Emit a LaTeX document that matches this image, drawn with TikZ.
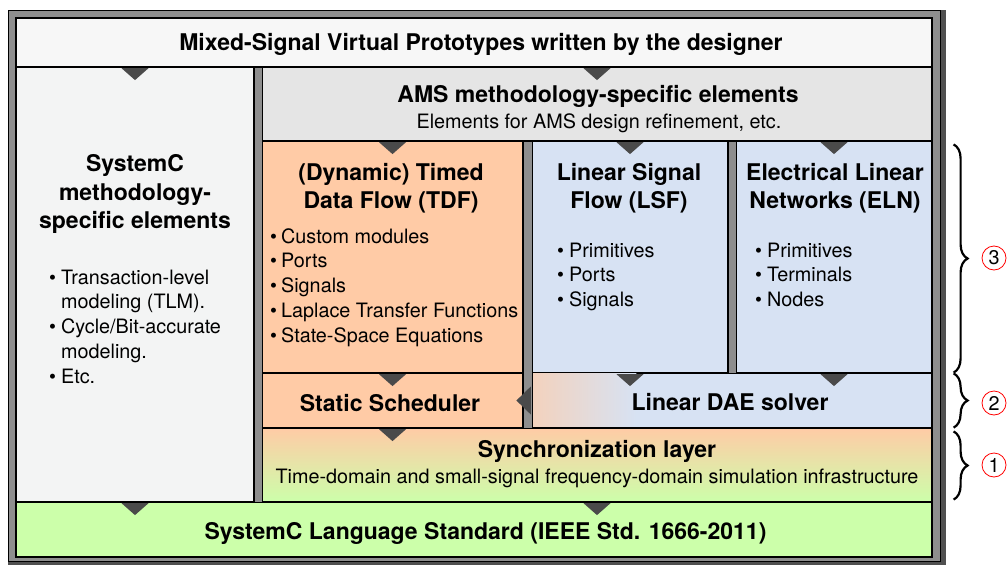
\documentclass[tikz,border=0pt]{standalone}
\usepackage{fontspec}
\setmainfont{TeX Gyre Heros}
\usetikzlibrary{fit,decorations.pathreplacing}
\definecolor{framegray}{HTML}{8E8E8E}
\definecolor{shadowgray}{HTML}{505050}
\definecolor{titlewhite}{HTML}{F7F7F7}
\definecolor{leftwhite}{HTML}{F3F4F4}
\definecolor{amsgray}{HTML}{E5E5E5}
\definecolor{tdforange}{HTML}{FFCBA6}
\definecolor{lsfblue}{HTML}{D7E2F3}
\definecolor{stdgreen}{HTML}{CCFFAA}
\definecolor{notchgray}{HTML}{4A4A4A}
\newcommand{\headfont}{\fontsize{23}{28.5}\selectfont\bfseries}
\newcommand{\itemfont}{\fontsize{19.8}{24.8}\selectfont}

\begin{document}
\begin{tikzpicture}[x=1pt,y=-1pt,
  every node/.style={inner sep=0pt},
  box/.style={draw=black,line width=1.2pt},
  bar/.style={draw=black,line width=1pt,fill=framegray},
  brace/.style={decorate,decoration={brace,amplitude=14pt},line width=2.2pt},
  notchdown/.pic={\fill[notchgray] (-13.5,0.6) -- (13.5,0.6) -- (0,12.5) -- cycle;},
  notchleft/.pic={\fill[notchgray] (-0.6,-14) -- (-0.6,14) -- (-15,0) -- cycle;}]
\useasboundingbox (0,0) rectangle (1007,565);

% outer frame
\fill[shadowgray] (8,10) rectangle (946,565);
\draw[fill=framegray,line width=0.8pt] (8.5,10.5) rectangle (940,561);

% layers
\node[box,fill=titlewhite,fit={(16,18) (932,67)}] (top) {};
\node[box,fill=leftwhite,fit={(16,67) (254,502)}] (leftcol) {};
\node[box,fill=amsgray,fit={(262,67) (932,141)}] (ams) {};
\node[box,fill=tdforange,fit={(262,141) (523,373)}] (tdf) {};
\node[box,fill=lsfblue,fit={(532,141) (728,373)}] (lsf) {};
\node[box,fill=lsfblue,fit={(736,141) (932,373)}] (eln) {};
\node[box,fill=tdforange,fit={(262,373) (523,428)}] (sched) {};
\node[box,fill=lsfblue,fit={(532,373) (932,428)}] (dae) {};
\shade[left color=tdforange!70!lsfblue,right color=lsfblue]
  ([xshift=0.6pt,yshift=-0.6pt]dae.north west) rectangle ([xshift=105pt,yshift=0.6pt]dae.south west);
\node[box,top color=tdforange,bottom color=stdgreen,fit={(262,428) (932,502)}] (sync) {};
\node[box,fill=stdgreen,fit={(16,502) (932,557)}] (lang) {};

% separators
\node[bar,fit={(254,67) (262,502)}] (barleft) {};
\node[bar,fit={(523,141) (532,428)}] (barmid) {};
\node[bar,fit={(728,141) (736,373)}] (barright) {};

% notches
\pic at (top.south -| leftcol.north) {notchdown};
\pic at (top.south -| ams.north) {notchdown};
\pic at (ams.south -| tdf.north) {notchdown};
\pic at (ams.south -| lsf.north) {notchdown};
\pic at (ams.south -| eln.north) {notchdown};
\pic at (tdf.south) {notchdown};
\pic at (lsf.south) {notchdown};
\pic at (eln.south) {notchdown};
\pic at (sched.south) {notchdown};
\pic at (sync.south) {notchdown};
\pic at (leftcol.south) {notchdown};
\pic at (dae.west) {notchleft};

% texts
\node[anchor=base,font=\headfont] (title) at (481,50) {Mixed-Signal Virtual Prototypes written by the designer};
\node[anchor=base,font=\headfont] (amshead) at (598,102) {AMS methodology-specific elements};
\node[anchor=base,font=\itemfont] (amssub) at (599,128.5) {Elements for AMS design refinement, etc.};
\node[anchor=base,font=\headfont] (lefthead) at (135,171.5)
  {\begin{tabular}[t]{@{}c@{}}SystemC\\methodology-\\specific elements\end{tabular}};
\node[anchor=base west,font=\itemfont] (leftitems) at (49,284)
  {\begin{tabular}[t]{@{}l@{\hspace{5pt}}l@{}}\textbullet&Transaction-level\\&modeling (TLM).\\
   \textbullet&Cycle/Bit-accurate\\&modeling.\\\textbullet&Etc.\end{tabular}};
\node[anchor=base,font=\headfont] (tdfhead) at (391,180)
  {\begin{tabular}[t]{@{}c@{}}(Dynamic) Timed\\Data Flow (TDF)\end{tabular}};
\node[anchor=base west,font=\itemfont] (tdfitems) at (270,243)
  {\begin{tabular}[t]{@{}l@{\hspace{4pt}}l@{}}\textbullet&Custom modules\\\textbullet&Ports\\\textbullet&Signals\\
   \textbullet&Laplace Transfer Functions\\\textbullet&State-Space Equations\end{tabular}};
\node[anchor=base,font=\headfont] (lsfhead) at (629,180)
  {\begin{tabular}[t]{@{}c@{}}Linear Signal\\Flow (LSF)\end{tabular}};
\node[anchor=base west,font=\itemfont] (lsfitems) at (557,257)
  {\begin{tabular}[t]{@{}l@{\hspace{5pt}}l@{}}\textbullet&Primitives\\\textbullet&Ports\\\textbullet&Signals\end{tabular}};
\node[anchor=base,font=\headfont] (elnhead) at (835,180)
  {\begin{tabular}[t]{@{}c@{}}Electrical Linear\\Networks (ELN)\end{tabular}};
\node[anchor=base west,font=\itemfont] (elnitems) at (755,257)
  {\begin{tabular}[t]{@{}l@{\hspace{5pt}}l@{}}\textbullet&Primitives\\\textbullet&Terminals\\\textbullet&Nodes\end{tabular}};
\node[anchor=base,font=\headfont] (schedtext) at (390,411) {Static Scheduler};
\node[anchor=base,font=\headfont] (daetext) at (730,410.5) {Linear DAE solver};
\node[anchor=base,font=\headfont] (synctext) at (597,457.5) {Synchronization layer};
\node[anchor=base,font=\itemfont] (syncsub) at (597,483.5) {Time-domain and small-signal frequency-domain simulation infrastructure};
\node[anchor=base,font=\headfont] (langtext) at (485.5,539) {SystemC Language Standard (IEEE Std. 1666-2011)};

% layer braces
\draw[brace] ([xshift=21pt,yshift=-4pt]eln.north east) -- ([xshift=21pt,yshift=1pt]eln.south east);
\draw[brace] ([xshift=21pt,yshift=-1pt]dae.north east) -- ([xshift=21pt,yshift=1pt]dae.south east);
\draw[brace] ([xshift=21pt,yshift=-4pt]sync.north east) -- ([xshift=21pt,yshift=3pt]sync.south east);
\node[circle,draw=red,line width=0.8pt,minimum size=24pt,font=\itemfont] (n3) at (994,258) {3};
\node[circle,draw=red,line width=0.8pt,minimum size=24pt,font=\itemfont] (n2) at (994,403) {2};
\node[circle,draw=red,line width=0.8pt,minimum size=24pt,font=\itemfont] (n1) at (994,465) {1};
\end{tikzpicture}
\end{document}
